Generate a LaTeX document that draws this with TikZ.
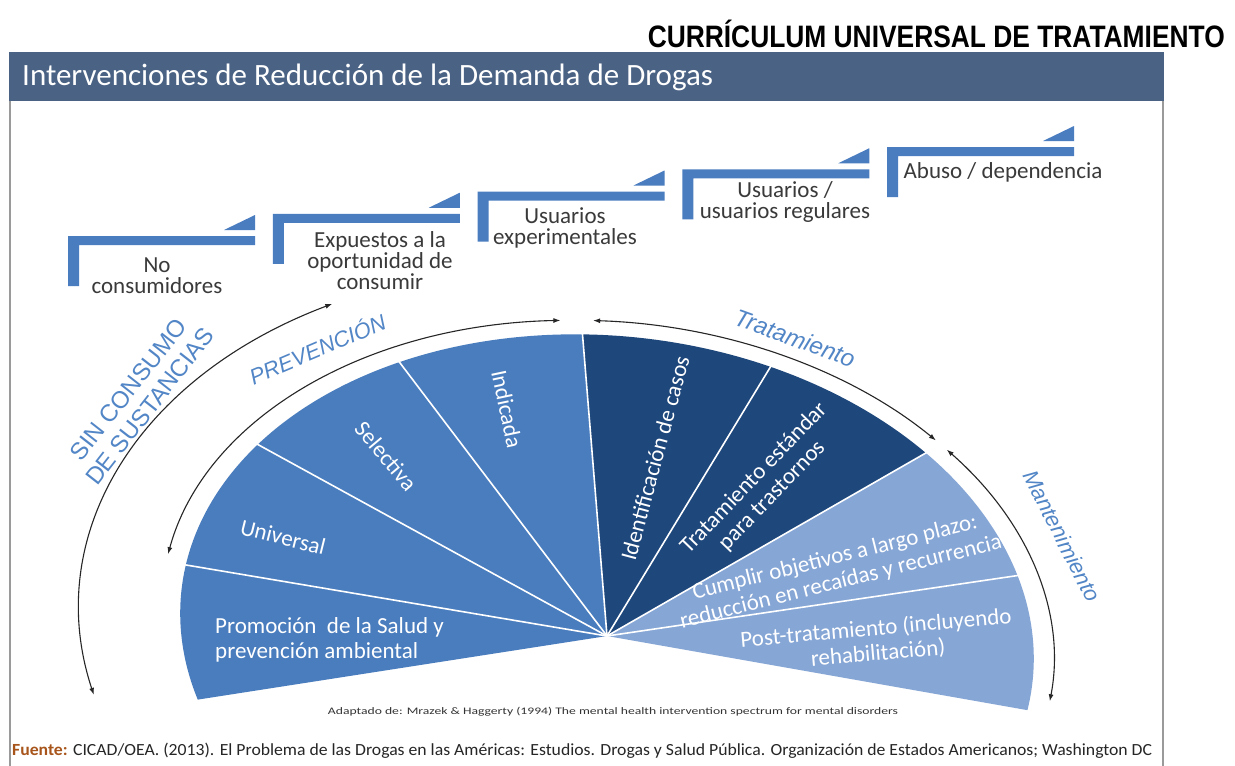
\documentclass[tikz,border=0pt]{standalone}
\usepackage{fontspec}
\setmainfont{Carlito}
\newfontfamily\arialf{Liberation Sans}
\usetikzlibrary{calc,arrows.meta}
\definecolor{midblue}{HTML}{4A7DBE}
\definecolor{darkblue}{HTML}{1E477C}
\definecolor{lightblue}{HTML}{86A6D6}
\definecolor{stepblue}{HTML}{4A7DC0}
\definecolor{barblue}{HTML}{4A6284}
\definecolor{lblblue}{HTML}{5286C6}
\definecolor{textgray}{HTML}{3A3A3A}
\definecolor{framegray}{HTML}{9A9A9A}
\definecolor{fuente}{HTML}{A8551C}
\begin{document}
\begin{tikzpicture}[x=1pt,y=-1pt,
  steptext/.style={align=center,text=textgray,font=\fontsize{23}{21}\selectfont,inner sep=0},
  fantext/.style={text=white,font=\fontsize{23}{25}\selectfont,inner sep=0},
  lbl/.style={text=lblblue,inner sep=0},
  sep/.style={white,line width=1.6pt},
  arr/.style={line width=1.1pt,black!85,{Latex[length=7pt,width=5pt]}-{Latex[length=7pt,width=5pt]}}]
\useasboundingbox (0,0) rectangle (1235,766);
\fill[white] (0,0) rectangle (1235,766);

% header
\node[anchor=east,inner sep=0] (hdr) at (1225,34) {\resizebox{577pt}{\height}{\arialf\bfseries\fontsize{31}{31}\selectfont CURRÍCULUM UNIVERSAL DE TRATAMIENTO}};

% frame and title bar
\draw[framegray,line width=1.5pt] (10,52) -- (10,770);
\draw[framegray,line width=1.5pt] (1163,52) -- (1163,770);
\fill[barblue] (9.25,52) rectangle (1163.75,101);
\node[anchor=west,text=white,font=\fontsize{31}{31}\selectfont,inner sep=0] (title) at (22,77) {Intervenciones de Reducción de la Demanda de Drogas};

% steps
\foreach \k in {0,...,4}{
  \pgfmathsetmacro\xa{68+204.75*\k}
  \pgfmathsetmacro\ya{236-22.25*\k}
  \fill[stepblue] (\xa,\ya) -- ++(187,0) -- ++(0,9) -- ++(-176,0) -- ++(0,41) -- ++(-11,0) -- cycle;
  \fill[stepblue] (\xa+156,\ya-6) -- (\xa+187,\ya-6) -- (\xa+187,\ya-21) -- cycle;
}
\node[steptext] (s1) at (157,276) {No\\consumidores};
\node[steptext] (s2) at (380,261) {Expuestos a la\\oportunidad de\\consumir};
\node[steptext] (s3) at (565,228) {Usuarios\\experimentales};
\node[steptext] (s4) at (785,202) {Usuarios /\\usuarios regulares};
\node[steptext] (s5) at (1003,172) {Abuso / dependencia};

% fan (tilted elliptical pie)
\coordinate (apex) at (607,636);
\begin{scope}[shift={(apex)},rotate=-6]
  \foreach \i/\c in {0/midblue,1/midblue,2/midblue,3/midblue,4/darkblue,5/darkblue,6/lightblue,7/lightblue}{
    \pgfmathsetmacro\ta{159.3+25.8*\i}
    \pgfmathsetmacro\tb{159.3+25.8*(\i+1)}
    \fill[\c] (0,0) -- (\ta:428 and 300) arc[start angle=\ta,end angle=\tb,x radius=428,y radius=300] -- cycle;
  }
  \foreach \i in {1,...,7}{
    \pgfmathsetmacro\ta{159.3+25.8*\i}
    \draw[sep] (0,0) -- (\ta:434 and 304);
  }
  % arrows
  \coordinate (sa) at (234.4:529 and 371);
  \coordinate (pa) at (259.8:448 and 314);
  \coordinate (ta) at (264:448 and 314);
  \coordinate (ma) at (315.3:448 and 314);
  \draw[arr] (sa) arc[start angle=234.4,end angle=162.4,x radius=529,y radius=371];
  \draw[arr] (pa) arc[start angle=259.8,end angle=186.5,x radius=448,y radius=314];
  \draw[arr] (ta) arc[start angle=264,end angle=313.2,x radius=448,y radius=314];
  \draw[arr] (ma) arc[start angle=315.3,end angle=363.4,x radius=448,y radius=314];
\end{scope}

% fan texts
\node[fantext,anchor=west,align=left] (promo) at (215,640) {Promoción\ \ de la Salud y\\prevención ambiental};
\node[fantext,rotate=-14] (univ) at (283,537) {Universal};
\node[fantext,rotate=-50] (selec) at (386,456) {Selectiva};
\node[fantext,rotate=-78] (indic) at (507,409) {Indicada};
\node[fantext,rotate=75] (ident) at (655,458) {Identificación de casos};
\node[fantext,rotate=46,align=center] (trat) at (763,487) {Tratamiento estándar\\para trastornos};
\node[fantext,rotate=14,align=center] (cumpl) at (838,570) {Cumplir objetivos a largo plazo:\\reducción en recaídas y recurrencia};
\node[fantext,rotate=5,align=center] (post) at (877,641) {Post-tratamiento (incluyendo\\rehabilitación)};

% arrow labels
\node[lbl,font=\arialf\fontsize{24}{27}\selectfont,rotate=52,align=center] (sin) at (139,398) {SIN CONSUMO\\DE SUSTANCIAS};
\node[lbl,font=\arialf\itshape\fontsize{22}{22}\selectfont,rotate=23] (prev) at (317,348) {PREVENCIÓN};
\node[lbl,font=\arialf\itshape\fontsize{24}{24}\selectfont,rotate=-20] (tratl) at (795,338) {Tratamiento};
\node[lbl,font=\arialf\itshape\fontsize{22}{22}\selectfont,rotate=-63] (mant) at (1062,536) {Mantenimiento};

% notes
\node[inner sep=0,text=black!80] (adapt) at (613,712) {\resizebox{570pt}{\height}{\fontsize{10}{10}\selectfont Adaptado de: Mrazek \& Haggerty (1994) The mental health intervention spectrum for mental disorders}};
\node[anchor=west,inner sep=0,text=black!85] (src) at (12,751) {\resizebox{1140pt}{\height}{\fontsize{17}{17}\selectfont\textcolor{fuente}{\textbf{Fuente:}} CICAD/OEA. (2013). El Problema de las Drogas en las Américas: Estudios. Drogas y Salud Pública. Organización de Estados Americanos; Washington DC}};
\end{tikzpicture}
\end{document}
